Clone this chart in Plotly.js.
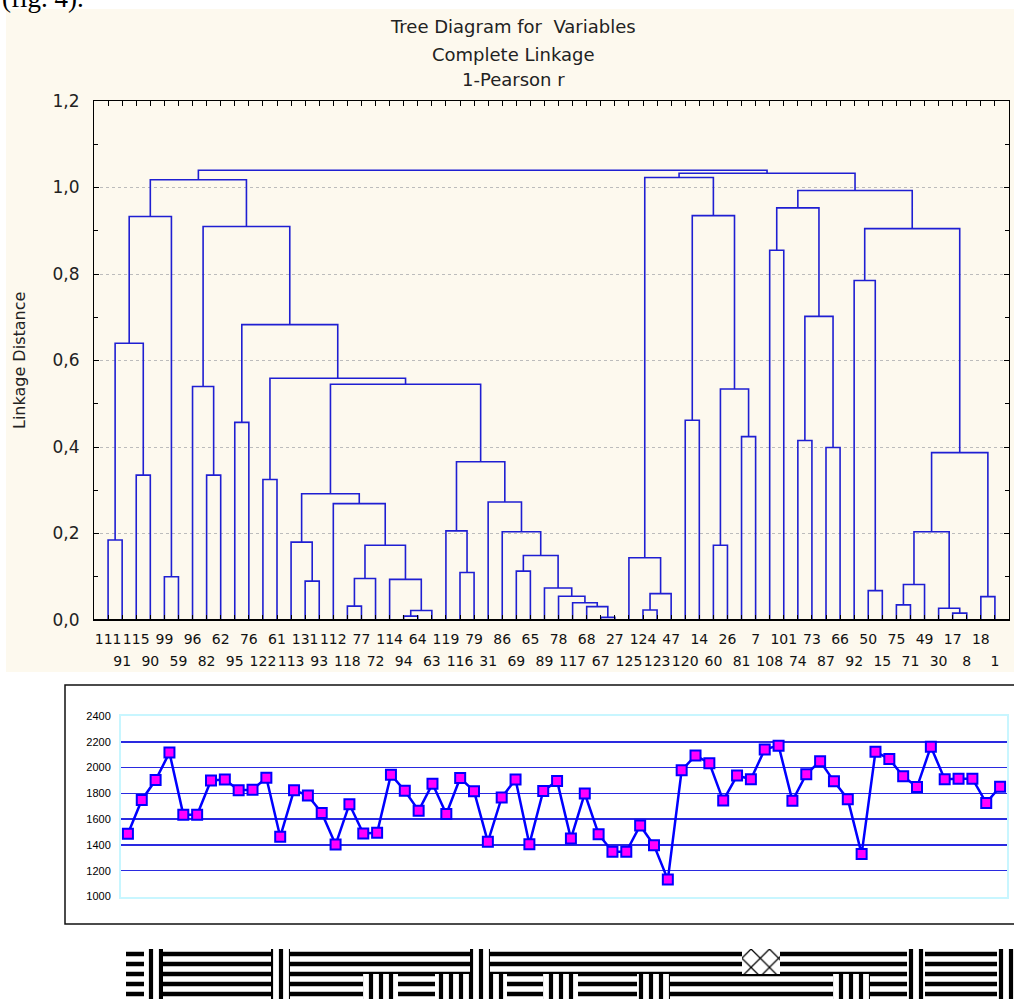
<!DOCTYPE html>
<html><head><meta charset="utf-8">
<script src="https://cdn.plot.ly/plotly-3.0.1.min.js"></script>
<style>html,body{margin:0;padding:0;background:#fff}#chart{width:1014px;height:999px}</style>
</head><body><div id="chart"></div><script>
// ---------- DATA ----------
const leafLabels = ['111','91','115','90','99','59','96','82','62','95','76','122','61','113','131','93','112','118','77','72',
  '114','94','64','63','119','116','79','31','86','69','65','89','78','117','68','67','27','125','124','123',
  '47','120','14','60','26','81','7','108','101','74','73','87','66','92','50','15','75','71','49','30',
  '17','8','18','1'];
// merges: ids < 64 are leaves (display order), id 64+k is merge k
const mergeLeft   = [0,2,64,4,66,7,6,9,11,14,13,17,75,21,77,20,76,16,74,25,24,29,35,34,33,32,31,85,28,27,84,82,72,71,70,68,
  38,100,37,41,43,45,104,103,102,47,49,51,110,109,54,53,56,116,60,59,117,62,120,115,113,108,99];
const mergeRight  = [1,3,65,5,67,8,69,10,12,15,73,18,19,22,23,78,79,80,81,26,83,30,36,86,87,88,89,90,91,92,93,94,95,96,97,98,
  39,40,101,42,44,46,105,106,107,48,50,52,111,112,55,114,57,58,61,118,119,63,121,122,123,124,125];
const mergeHeight = [0.185,0.335,0.640,0.100,0.933,0.335,0.540,0.457,0.325,0.090,0.180,0.032,0.096,0.009,0.022,0.094,0.173,0.269,0.292,0.110,
  0.206,0.113,0.006,0.031,0.040,0.055,0.074,0.149,0.204,0.273,0.366,0.545,0.559,0.683,0.910,1.018,
  0.023,0.061,0.144,0.462,0.173,0.424,0.534,0.935,1.023,0.855,0.415,0.399,0.702,0.953,0.068,0.785,0.035,0.082,0.016,0.027,0.204,0.054,0.387,0.905,0.993,1.033,1.040];

const sampleValues = [1487,1749,1903,2116,1635,1635,1900,1908,1825,1828,1921,1463,1825,1783,1648,1403,1716,1489,1494,1945,
  1820,1666,1874,1640,1919,1817,1424,1768,1908,1406,1818,1896,1449,1799,1483,1347,1347,1551,1397,1131,
  1979,2094,2034,1744,1938,1909,2141,2170,1742,1948,2050,1893,1755,1329,2123,2066,1932,1849,2162,1909,
  1914,1914,1726,1851];

const stripTopKinds    = ['H','V','H','V','H','V','H','Z','H','V','H','V'];
const stripTopLengths  = [18,19,108,19,180,20,252,38,127,18,72,17];
const stripBotKinds    = ['H','V','H','V','H','V','H','V','V','V','H','V','H','V','H','V','H','V','H','V'];
const stripBotLengths  = [18,19,108,19,73,35,37,35,20,17,36,35,59,33,163,37,37,18,72,17];

// ---------- GEOMETRY HELPERS ----------
const W = 1014, H = 999;
const px = v => v / W, py = v => 1 - v / H;
const SANS = 'DejaVu Sans, Verdana, sans-serif';

// dendrogram segments computed from merges
const nodeX = leafLabels.map((_, i) => i + 1);
const nodeH = leafLabels.map(() => 0);
const dx = [], dy = [];
mergeLeft.forEach((a, k) => {
  const b = mergeRight[k], h = mergeHeight[k];
  dx.push(nodeX[a], nodeX[a], nodeX[b], nodeX[b], null);
  dy.push(nodeH[a], h, h, nodeH[b], null);
  nodeX.push((nodeX[a] + nodeX[b]) / 2);
  nodeH.push(h);
});

const oddPos = [], oddTxt = [], evenPos = [], evenTxt = [];
leafLabels.forEach((l, i) => {
  if (i % 2 === 0) { oddPos.push(i + 1); oddTxt.push(l); }
  else { evenPos.push(i + 1); evenTxt.push(l); }
});

const patShape = {H: '-', V: '|', Z: 'x'};
const patSize = {H: 10, V: 10, Z: 13};
const patSolid = {H: 0.45, V: 0.42, Z: 0.18};
function stripTrace(row, kinds, lens) {
  const base = []; let acc = 0;
  lens.forEach(l => { base.push(acc); acc += l; });
  return {
    type: 'bar', orientation: 'h', xaxis: 'x3', yaxis: 'y3',
    y: kinds.map(() => row), x: lens, base: base, width: 1,
    marker: {color: '#ffffff', line: {width: 0},
      pattern: {shape: kinds.map(k => patShape[k]), size: kinds.map(k => patSize[k]),
        solidity: kinds.map(k => patSolid[k]), fgcolor: '#000000', bgcolor: '#ffffff', fillmode: 'replace'}},
    hoverinfo: 'skip'
  };
}

const traces = [
  {type: 'scatter', mode: 'lines', x: dx, y: dy, xaxis: 'x', yaxis: 'y',
   line: {color: '#1f1fd2', width: 1.6}, hoverinfo: 'skip', connectgaps: false},
  {type: 'scatter', mode: 'markers', x: evenPos, y: evenPos.map(() => 0), xaxis: 'x4', yaxis: 'y',
   marker: {opacity: 0, size: 1}, hoverinfo: 'skip'},
  {type: 'scatter', mode: 'lines+markers', x: sampleValues.map((_, i) => i + 1), y: sampleValues,
   xaxis: 'x2', yaxis: 'y2', line: {color: '#0000ff', width: 2.5},
   marker: {symbol: 'square', size: 10, color: '#ff00ff', line: {color: '#0000ff', width: 2}}},
  stripTrace('top', stripTopKinds, stripTopLengths),
  stripTrace('bottom', stripBotKinds, stripBotLengths)
];

const layout = {
  width: W, height: H, margin: {l: 0, r: 0, t: 0, b: 0},
  paper_bgcolor: '#ffffff', plot_bgcolor: '#ffffff', showlegend: false,
  separators: ', ', barmode: 'overlay', bargap: 0,
  font: {family: SANS, color: '#222'},
  xaxis: {domain: [px(94), px(1009)], range: [0, 65], anchor: 'y',
    tickmode: 'array', tickvals: oddPos, ticktext: oddTxt, tickangle: 0,
    ticks: 'inside', ticklen: 5, tickcolor: '#000', showline: true, linecolor: '#000', linewidth: 1,
    mirror: 'ticks', showgrid: false, zeroline: false, ticklabelstandoff: 6,
    tickfont: {family: SANS, size: 14, color: '#111'},
    minor: {tickmode: 'linear', tick0: 0, dtick: 1, ticks: 'inside', ticklen: 5, tickcolor: '#000', showgrid: false}},
  xaxis4: {overlaying: 'x', anchor: 'y', side: 'bottom', range: [0, 65], tickangle: 0,
    tickmode: 'array', tickvals: evenPos, ticktext: evenTxt, ticks: '', showline: false,
    showgrid: false, zeroline: false, ticklabelstandoff: 31, tickfont: {family: SANS, size: 14, color: '#111'}},
  yaxis: {domain: [py(620), py(101)], range: [0, 1.2], anchor: 'x', tick0: 0, dtick: 0.2, tickformat: '.1f',
    ticks: 'inside', ticklen: 5, tickcolor: '#000', showline: true, linecolor: '#000', linewidth: 1, mirror: 'ticks',
    showgrid: true, gridcolor: '#bcbcbc', griddash: 'dot', gridwidth: 1, zeroline: false,
    ticklabelstandoff: 10, tickfont: {family: SANS, size: 17, color: '#222'},
    minor: {dtick: 0.1, ticks: 'inside', ticklen: 4, tickcolor: '#000', showgrid: false}},
  xaxis2: {domain: [px(121), px(1007)], range: [0.5, 64.5], anchor: 'y2', showticklabels: false, ticks: '',
    showline: true, linecolor: '#c8f6ff', linewidth: 2, mirror: true, showgrid: false, zeroline: false},
  yaxis2: {domain: [py(896.5), py(716)], range: [1000, 2400], dtick: 200, tick0: 1000, anchor: 'x2', tickformat: 'd',
    showline: true, linecolor: '#c8f6ff', linewidth: 2, mirror: true, ticks: '',
    showgrid: true, gridcolor: '#2a2ae0', gridwidth: 1.5, zeroline: false, ticklabelstandoff: 6,
    tickfont: {family: 'Liberation Sans, Arial, sans-serif', size: 11, color: '#000'}},
  xaxis3: {domain: [px(126), 1], range: [0, 888], anchor: 'y3', visible: false},
  yaxis3: {domain: [0, py(949)], anchor: 'x3', type: 'category', categoryorder: 'array',
    categoryarray: ['bottom', 'top'], range: [-0.5, 1.5], visible: false},
  shapes: [
    {type: 'rect', xref: 'paper', yref: 'paper', x0: px(6), x1: 1, y0: py(672), y1: py(9),
     fillcolor: '#fdf9ee', line: {width: 0}, layer: 'below'},
    {type: 'rect', xref: 'paper', yref: 'paper', x0: px(65), x1: 1.01, y0: py(924), y1: py(685),
     fillcolor: 'rgba(0,0,0,0)', line: {color: '#111', width: 1.5}, layer: 'below'},
    {type: 'line', xref: 'x', yref: 'y', x0: 0, x1: 65, y0: 0, y1: 0, line: {color: '#000', width: 2}}
  ],
  annotations: [
    {text: 'Tree Diagram for&nbsp; Variables', xref: 'paper', yref: 'paper', x: px(513), y: py(27),
     xanchor: 'center', yanchor: 'middle', showarrow: false, font: {family: SANS, size: 18, color: '#222'}},
    {text: 'Complete Linkage', xref: 'paper', yref: 'paper', x: px(513), y: py(54),
     xanchor: 'center', yanchor: 'middle', showarrow: false, font: {family: SANS, size: 18, color: '#222'}},
    {text: '1-Pearson r', xref: 'paper', yref: 'paper', x: px(513), y: py(79),
     xanchor: 'center', yanchor: 'middle', showarrow: false, font: {family: SANS, size: 18, color: '#222'}},
    {text: 'Linkage Distance', xref: 'paper', yref: 'paper', x: px(20), y: py(361), textangle: -90,
     xanchor: 'center', yanchor: 'middle', showarrow: false, font: {family: SANS, size: 16, color: '#222'}},
    {text: '(fig. 4).', xref: 'paper', yref: 'paper', x: 0, xanchor: 'left', y: py(-2), yanchor: 'middle',
     showarrow: false, font: {size: 27, color: '#000', family: 'Liberation Serif, Times New Roman, serif'}}
  ]
};

Plotly.newPlot('chart', traces, layout, {displayModeBar: false, staticPlot: true});
</script></body></html>
